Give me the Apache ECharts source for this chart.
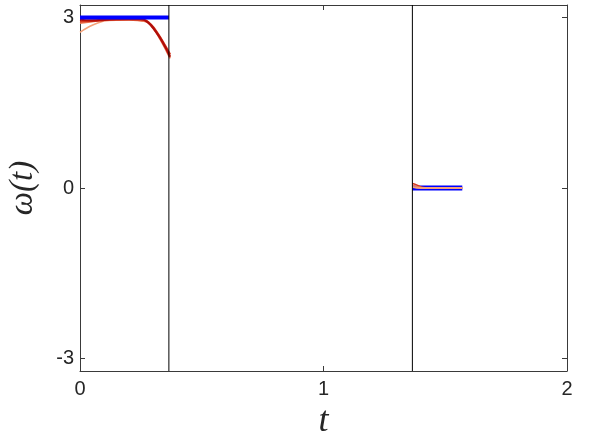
<!DOCTYPE html>
<html>
<head>
<meta charset="utf-8">
<script src="https://cdn.jsdelivr.net/npm/echarts@6/dist/echarts.min.js"></script>
<style>
html, body { margin: 0; padding: 0; background: #fff; }
#main { width: 592px; height: 433px; }
</style>
</head>
<body>
<div id="main"></div>
<script>
var tTicks = [0, 1, 2];
var wTicks = [-3, 0, 3];
var switchTimes = [0.365, 1.365];

// reference (blue) segments
var refFirst = [[0, 3], [0.365, 3]];
var refSecond = [[1.365, 0], [1.57, 0]];

// simulated runs, first interval
var runA = [[0, 2.96], [0.05, 2.95], [0.1, 2.96], [0.15, 2.97], [0.2, 2.97], [0.25, 2.97], [0.28, 2.91], [0.31, 2.76], [0.34, 2.56], [0.37, 2.31]];
var runB = [[0, 2.93], [0.05, 2.94], [0.1, 2.96], [0.2, 2.97], [0.26, 2.96], [0.29, 2.88], [0.32, 2.71], [0.35, 2.5], [0.37, 2.35]];
var runC = [[0, 2.9], [0.05, 2.93], [0.1, 2.95], [0.2, 2.96], [0.27, 2.93], [0.3, 2.81], [0.33, 2.61], [0.37, 2.28]];
var runD = [[0, 2.74], [0.03, 2.82], [0.07, 2.9], [0.12, 2.95], [0.2, 2.96], [0.26, 2.94], [0.3, 2.83], [0.34, 2.57], [0.37, 2.3]];

// simulated runs, second interval
var runE = [[1.365, 0.08], [1.38, 0.06], [1.4, 0.02], [1.43, 0], [1.57, 0]];
var runF = [[1.365, 0.05], [1.39, 0.02], [1.42, 0], [1.57, 0]];
var runG = [[1.365, 0.02], [1.4, 0], [1.57, 0]];

var yMin = -3.22, yMax = 3.22;
var axisColor = '#3a3a3a';

function simLine(data, color, width, z) {
    return {
        type: 'line', data: data, smooth: true, symbol: 'none', z: z,
        lineStyle: { color: color, width: width }
    };
}

var series = [
    simLine(runD, '#f5a27a', 1.5, 3),
    simLine(runC, '#ee7a55', 1.8, 3),
    simLine(runB, '#d83a20', 2.2, 3),
    simLine(runA, '#b00e0a', 2.2, 3),
    { type: 'line', data: refFirst, symbol: 'none', z: 4, lineStyle: { color: '#0000ff', width: 4 } },
    { type: 'line', data: refSecond, symbol: 'none', z: 2, lineStyle: { color: '#0000ff', width: 5 } },
    simLine(runE, '#d83a20', 1.5, 3),
    simLine(runF, '#ee7a55', 1.5, 3),
    simLine(runG, '#f5a27a', 1.8, 3)
];

switchTimes.forEach(function (ts) {
    series.push({
        type: 'line', data: [[ts, yMin], [ts, yMax]], symbol: 'none', z: 5,
        lineStyle: { color: '#000', width: 1 }
    });
});

var tickLabel = { fontFamily: 'Liberation Sans', fontSize: 20, color: '#262626' };

var myChart = echarts.init(document.getElementById('main'));
myChart.setOption({
    animation: false,
    grid: { left: 80, right: 25, top: 5, bottom: 62, containLabel: false, outerBoundsMode: 'none' },
    xAxis: [{
        type: 'value', min: 0, max: 2, interval: 1,
        name: 't', nameLocation: 'middle', nameGap: 32,
        nameTextStyle: { fontFamily: 'Liberation Serif', fontStyle: 'italic', fontSize: 36, color: '#262626' },
        axisLine: { onZero: false, lineStyle: { color: axisColor } },
        axisTick: { inside: true, length: 5, lineStyle: { color: axisColor } },
        axisLabel: Object.assign({ margin: 8, formatter: function (v) { return tTicks.indexOf(v) >= 0 ? String(v) : ''; } }, tickLabel),
        splitLine: { show: false }
    }, {
        type: 'value', min: 0, max: 2, interval: 1, position: 'top',
        axisLine: { onZero: false, lineStyle: { color: axisColor } },
        axisTick: { inside: true, length: 5, lineStyle: { color: axisColor } },
        axisLabel: { show: false },
        splitLine: { show: false }
    }],
    yAxis: [{
        type: 'value', min: yMin, max: yMax,
        name: 'ω(t)', nameLocation: 'middle', nameGap: 40, nameRotate: 90,
        nameTextStyle: { fontFamily: 'Liberation Serif', fontStyle: 'italic', fontSize: 33, color: '#262626' },
        axisLine: { show: true, onZero: false, lineStyle: { color: axisColor } },
        axisTick: { show: true, inside: true, length: 5, customValues: wTicks, lineStyle: { color: axisColor } },
        axisLabel: Object.assign({ margin: 6, customValues: wTicks }, tickLabel),
        splitLine: { show: false }
    }, {
        type: 'value', min: yMin, max: yMax, position: 'right',
        axisLine: { show: true, onZero: false, lineStyle: { color: axisColor } },
        axisTick: { show: true, inside: true, length: 5, customValues: wTicks, lineStyle: { color: axisColor } },
        axisLabel: { show: false },
        splitLine: { show: false }
    }],
    series: series
});
</script>
</body>
</html>
